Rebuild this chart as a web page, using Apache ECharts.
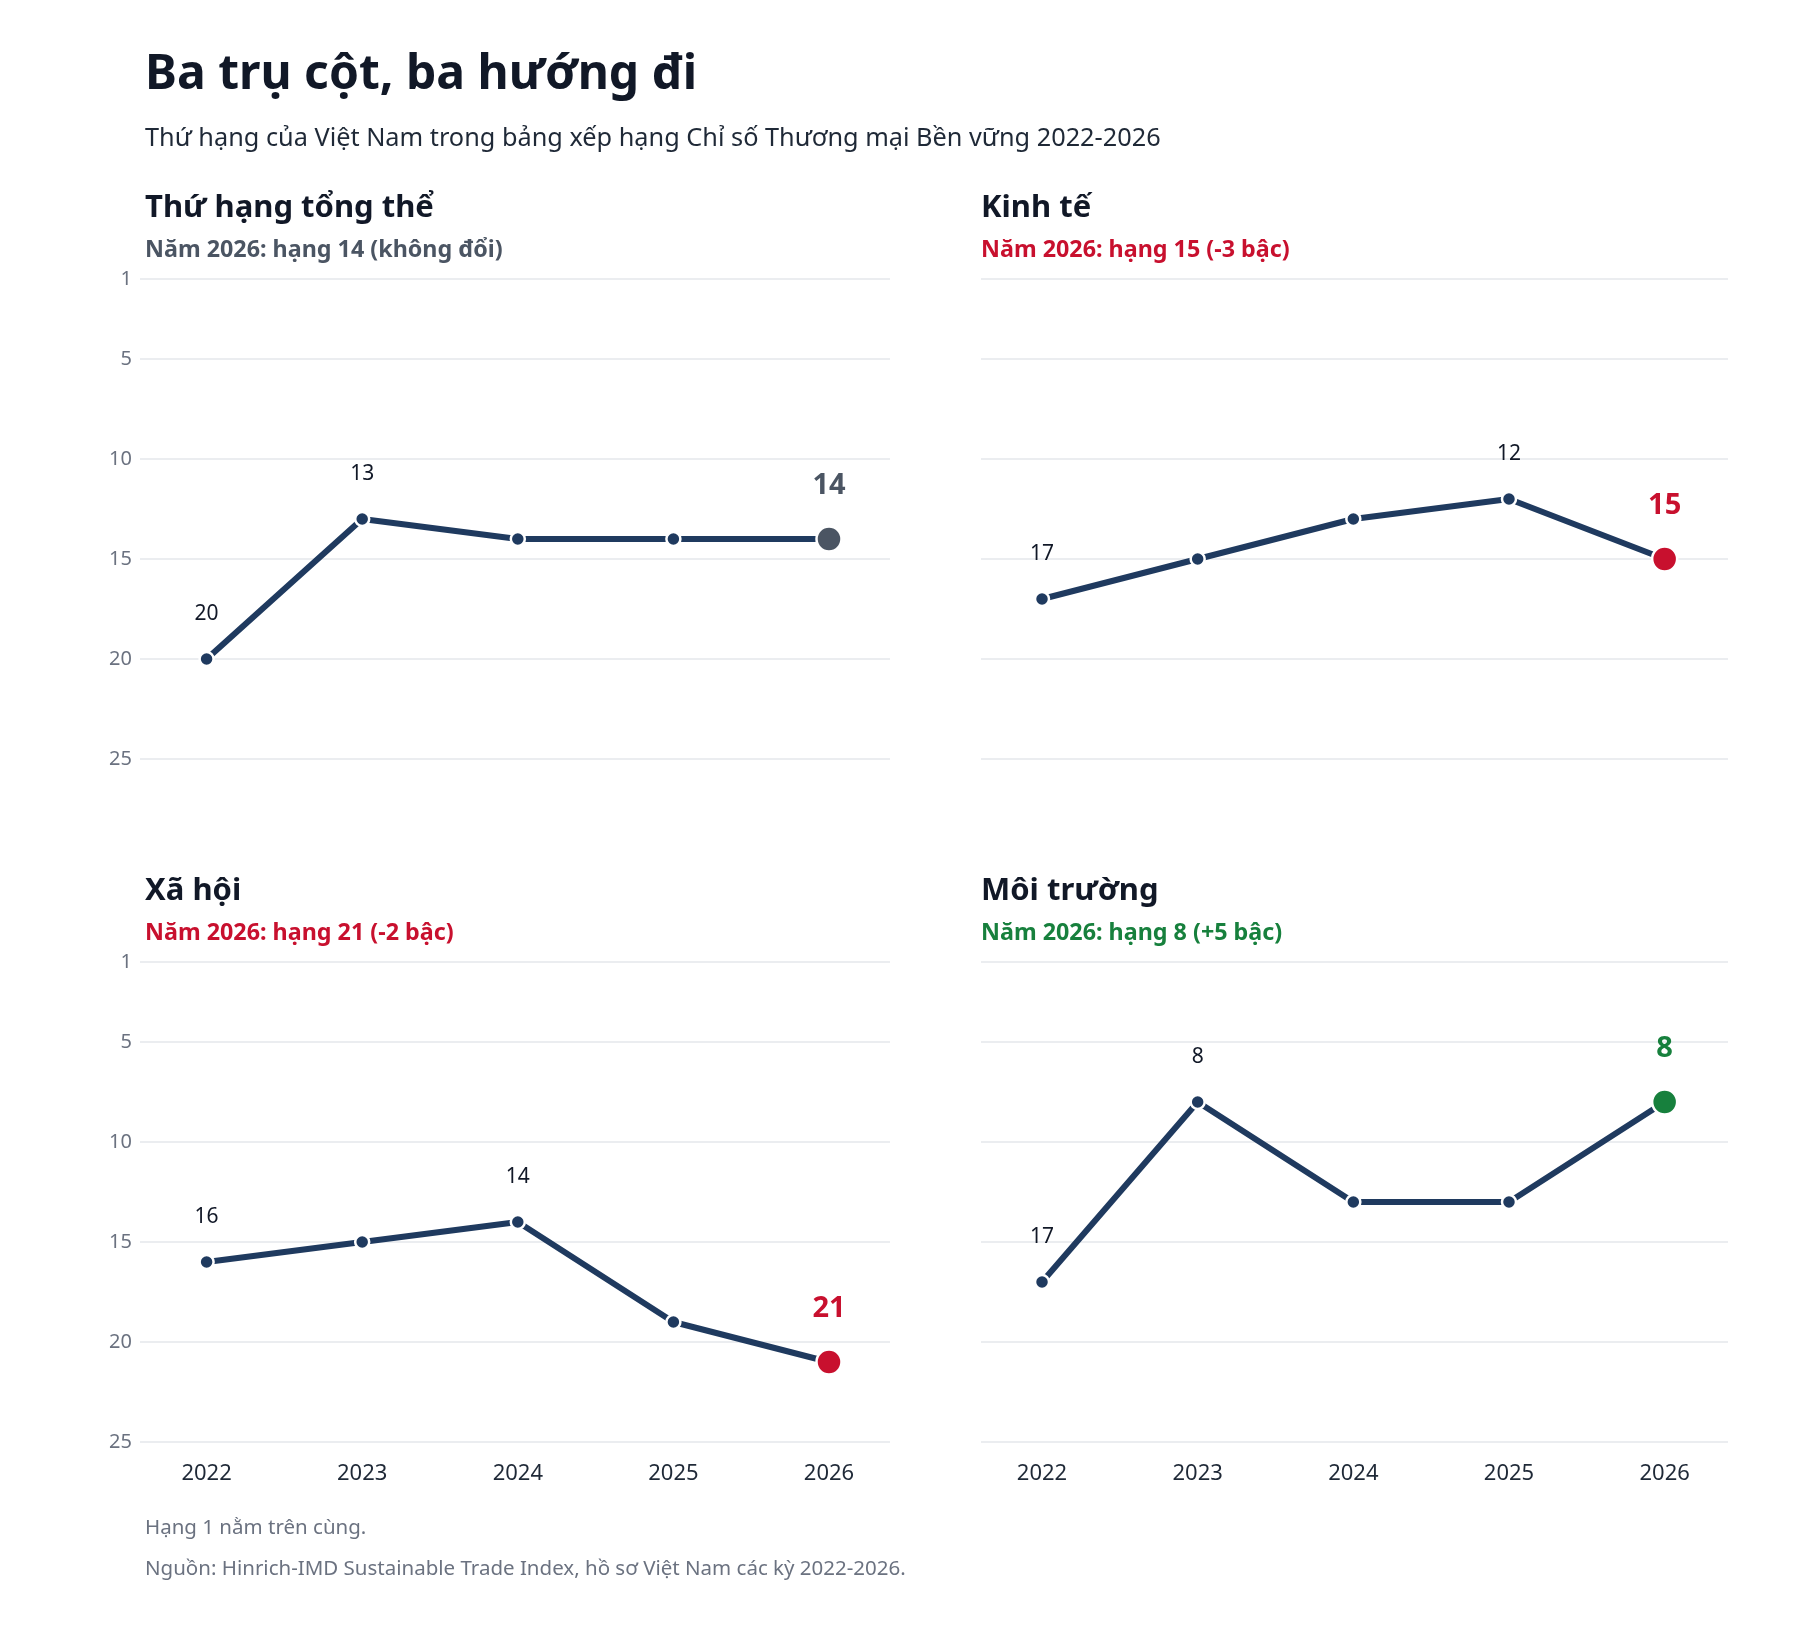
<!DOCTYPE html>
<html>
<head>
<meta charset="utf-8">
<script src="https://cdn.jsdelivr.net/npm/echarts@6/dist/echarts.min.js"></script>
<style>
  html, body { margin: 0; padding: 0; background: #fff; }
  #chart { width: 1800px; height: 1640px; }
</style>
</head>
<body>
<div id="chart"></div>
<script>
// du lieu
const years = [2022, 2023, 2024, 2025, 2026];
const overallRank = [20, 13, 14, 14, 14];
const economyRank = [17, 15, 13, 12, 15];
const societyRank = [16, 15, 14, 19, 21];
const environmentRank = [17, 8, 13, 13, 8];
const yTicks = [1, 5, 10, 15, 20, 25];

const panelNames = ['Thứ hạng tổng thể', 'Kinh tế', 'Xã hội', 'Môi trường'];
const panelNotes = [
    'Năm 2026: hạng 14 (không đổi)',
    'Năm 2026: hạng 15 (-3 bậc)',
    'Năm 2026: hạng 21 (-2 bậc)',
    'Năm 2026: hạng 8 (+5 bậc)'
];

const FONT = "'Noto Sans', 'DejaVu Sans', sans-serif";
const NAVY = '#1f3a5f';
const noteColors = ['#4b5563', '#c8102e', '#c8102e', '#17803d'];
const panelData = [overallRank, economyRank, societyRank, environmentRank];

// vi tri o luoi
const grids = [
    { left: 140, top: 279, width: 750, height: 480 },
    { left: 981, top: 279, width: 747, height: 480 },
    { left: 140, top: 962, width: 750, height: 480 },
    { left: 981, top: 962, width: 747, height: 480 }
];

const titles = [
    {
        text: 'Ba trụ cột, ba hướng đi', left: 140, top: 46,
        textStyle: { fontFamily: FONT, fontSize: 48, fontWeight: 'bold', color: '#111827' }
    },
    {
        text: 'Thứ hạng của Việt Nam trong bảng xếp hạng Chỉ số Thương mại Bền vững 2022-2026', left: 140, top: 121,
        textStyle: { fontFamily: FONT, fontSize: 25.3, fontWeight: 'normal', color: '#1f2937' }
    },
    {
        text: 'Hạng 1 nằm trên cùng.', left: 140, top: 1513,
        textStyle: { fontFamily: FONT, fontSize: 20.5, fontWeight: 'normal', color: '#6b7280' }
    },
    {
        text: 'Nguồn: Hinrich-IMD Sustainable Trade Index, hồ sơ Việt Nam các kỳ 2022-2026.', left: 140, top: 1554,
        textStyle: { fontFamily: FONT, fontSize: 20.5, fontWeight: 'normal', color: '#6b7280' }
    }
];

const xAxes = [], yAxes = [], series = [];

grids.forEach((g, i) => {
    const isBottom = i >= 2;
    const isLeft = i % 2 === 0;
    const textLeft = isLeft ? g.left : g.left - 5;
    titles.push({
        text: panelNames[i], left: textLeft, top: g.top - 91,
        textStyle: { fontFamily: FONT, fontSize: 31, fontWeight: 'bold', color: '#111827' }
    });
    titles.push({
        text: panelNotes[i], left: textLeft, top: g.top - 45,
        textStyle: { fontFamily: FONT, fontSize: 23.3, fontWeight: 'bold', color: noteColors[i] }
    });

    xAxes.push({
        type: 'value', gridIndex: i,
        min: isLeft ? 2021.572 : 2021.608,
        max: isLeft ? 2026.392 : 2026.407,
        axisLine: { show: false }, axisTick: { show: false }, splitLine: { show: false },
        axisLabel: {
            show: isBottom, customValues: years, formatter: v => String(v),
            margin: 21, fontFamily: FONT, fontSize: 22, color: '#1f2937'
        }
    });
    yAxes.push({
        type: 'value', gridIndex: i, inverse: true, min: 1, max: 25,
        axisLine: { show: false },
        axisTick: { show: false, customValues: yTicks },
        axisLabel: {
            show: isLeft, customValues: yTicks, margin: 8,
            fontFamily: FONT, fontSize: 20, color: '#6b7280', padding: [6, 0, 0, 0]
        },
        splitLine: { show: true, lineStyle: { color: '#e5e7eb', width: 1.5 } }
    });

    const vals = panelData[i];
    let best = 0;
    for (let k = 1; k < vals.length - 1; k++) if (vals[k] < vals[best]) best = k;
    const labelIdx = [0, best];

    series.push({
        type: 'line', xAxisIndex: i, yAxisIndex: i,
        data: years.map((y, k) => ({
            value: [y, vals[k]],
            label: { show: labelIdx.includes(k) }
        })),
        symbol: 'circle', symbolSize: 14, showAllSymbol: true,
        lineStyle: { color: NAVY, width: 6 },
        itemStyle: { color: NAVY, borderColor: '#fff', borderWidth: 2.5 },
        label: {
            position: 'top', distance: 26, formatter: p => String(p.value[1]),
            fontFamily: FONT, fontSize: 21, color: '#111827'
        },
        emphasis: { disabled: true },
        z: 3
    });
    const last = vals.length - 1;
    series.push({
        type: 'scatter', xAxisIndex: i, yAxisIndex: i,
        data: [[years[last], vals[last]]],
        symbolSize: 25,
        itemStyle: { color: noteColors[i], opacity: 1, borderColor: '#fff', borderWidth: 2.5 },
        label: {
            show: true, position: 'top', distance: 25, formatter: p => String(p.value[1]),
            fontFamily: FONT, fontSize: 29, fontWeight: 'bold', color: noteColors[i]
        },
        emphasis: { disabled: true },
        z: 4
    });
});

const chart = echarts.init(document.getElementById('chart'));
chart.setOption({
    backgroundColor: '#fff',
    animation: false,
    title: titles,
    grid: grids,
    xAxis: xAxes,
    yAxis: yAxes,
    series: series
});
</script>
</body>
</html>
